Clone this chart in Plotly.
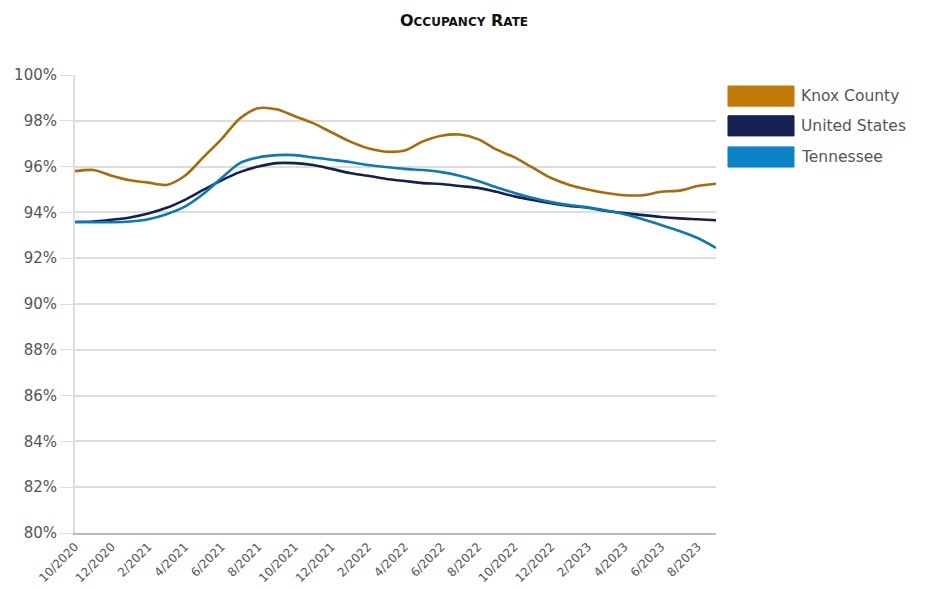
import plotly.graph_objects as go

months = ["10/2020", "11/2020", "12/2020", "1/2021", "2/2021", "3/2021", "4/2021", "5/2021",
          "6/2021", "7/2021", "8/2021", "9/2021", "10/2021", "11/2021", "12/2021", "1/2022",
          "2/2022", "3/2022", "4/2022", "5/2022", "6/2022", "7/2022", "8/2022", "9/2022",
          "10/2022", "11/2022", "12/2022", "1/2023", "2/2023", "3/2023", "4/2023", "5/2023",
          "6/2023", "7/2023", "8/2023", "9/2023"]

knox = [95.8, 95.85, 95.6, 95.4, 95.3, 95.2, 95.6, 96.4, 97.2, 98.1, 98.55, 98.5,
        98.2, 97.9, 97.5, 97.1, 96.8, 96.65, 96.7, 97.1, 97.35, 97.4, 97.2, 96.75,
        96.4, 95.95, 95.5, 95.2, 95.0, 94.85, 94.75, 94.75, 94.9, 94.95, 95.15, 95.25]

us = [93.58, 93.6, 93.68, 93.78, 93.95, 94.2, 94.55, 94.98, 95.4, 95.76, 96.0, 96.15,
      96.15, 96.07, 95.9, 95.72, 95.6, 95.46, 95.37, 95.28, 95.24, 95.15, 95.07, 94.9,
      94.7, 94.54, 94.4, 94.28, 94.2, 94.06, 93.97, 93.88, 93.8, 93.74, 93.7, 93.66]

tn = [93.58, 93.57, 93.57, 93.6, 93.7, 93.92, 94.25, 94.8, 95.5, 96.15, 96.4, 96.5,
      96.5, 96.4, 96.3, 96.2, 96.07, 95.98, 95.9, 95.85, 95.76, 95.6, 95.37, 95.1,
      94.85, 94.63, 94.45, 94.32, 94.22, 94.08, 93.92, 93.7, 93.45, 93.19, 92.88, 92.45]

tick_labels = months[::2]
y_ticks = list(range(80, 101, 2))

series = [("Knox County", knox, "#A96A08", "#C27B06"),
          ("United States", us, "#16204F", "#172154"),
          ("Tennessee", tn, "#0A79B5", "#0A84C6")]

FONT = "DejaVu Sans, Verdana, sans-serif"

fig = go.Figure()
for name, vals, lc, _ in series:
    fig.add_trace(go.Scatter(x=list(range(len(months))), y=vals, mode="lines", name=name,
                             line=dict(color=lc, width=2.6, shape="spline", smoothing=0.8),
                             showlegend=False))

# manual legend with coloured boxes
leg_y = [0.954, 0.889, 0.821]
for (name, _, _, bc), yy in zip(series, leg_y):
    fig.add_shape(type="rect", xref="paper", yref="paper",
                  x0=1.0187, x1=1.1217, y0=yy - 0.022, y1=yy + 0.022,
                  fillcolor=bc, line=dict(color=bc, width=1))
    fig.add_annotation(xref="paper", yref="paper", x=1.129, y=yy, text=name,
                       showarrow=False, xanchor="left", yanchor="middle",
                       font=dict(family=FONT, size=15.5, color="#555"))

fig.update_layout(
    width=928, height=589,
    margin=dict(l=75, r=212, t=75, b=56),
    paper_bgcolor="white", plot_bgcolor="white",
    title=dict(text="<b>O<span style='font-size:12px'>CCUPANCY</span> R<span style='font-size:12px'>ATE</span></b>",
               x=0.5, xanchor="center", y=0.965, yanchor="middle",
               font=dict(family=FONT, size=16, color="#111")),
    font=dict(family=FONT, size=15, color="#555"),
)
fig.update_xaxes(range=[0, len(months) - 1], tickmode="array", automargin=False,
                 tickvals=list(range(0, len(months), 2)), ticktext=tick_labels,
                 tickangle=-45, showgrid=False, showline=True, linecolor="#bbbbbb",
                 linewidth=2, zeroline=False, ticks="", ticklabelstandoff=0,
                 tickfont=dict(family=FONT, size=12, color="#555"))
fig.update_yaxes(range=[80, 100], tickmode="array", tickvals=y_ticks, automargin=False,
                 ticktext=[f"{v}%" for v in y_ticks], showgrid=True, gridcolor="#dddddd",
                 gridwidth=1.5, showline=True, linecolor="#dddddd", linewidth=2,
                 zeroline=False, ticks="outside", ticklen=13, tickcolor="#dddddd",
                 tickfont=dict(family=FONT, size=15, color="#555"))

fig.write_html("out.html")
